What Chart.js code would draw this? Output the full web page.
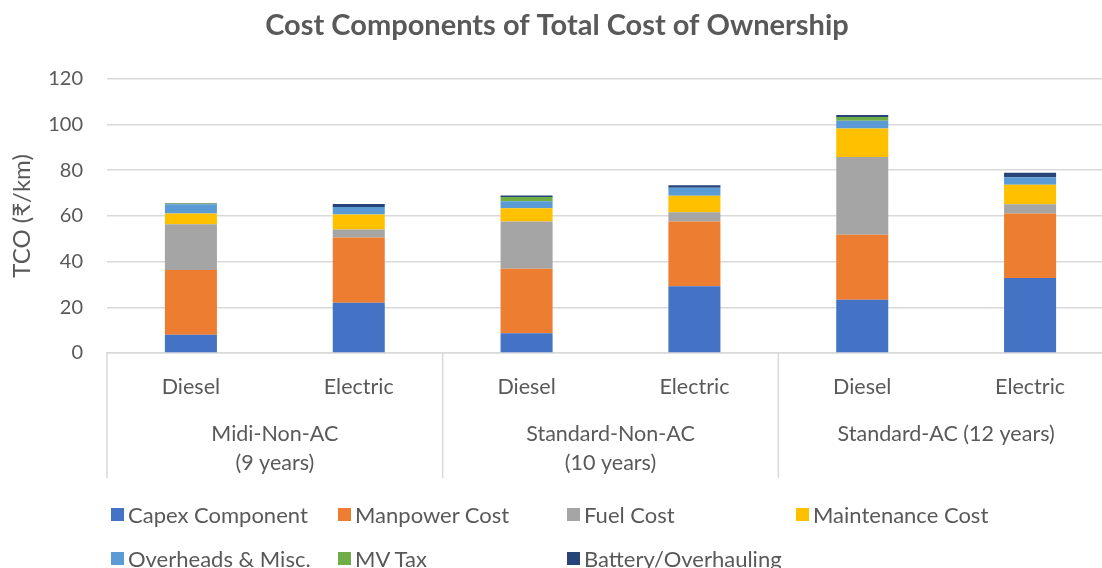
<!DOCTYPE html>
<html>
<head>
<meta charset="utf-8">
<script src="https://cdn.jsdelivr.net/npm/chart.js@4.4.1/dist/chart.umd.min.js"></script>
<style>
    html, body { margin: 0; padding: 0; background: #fff; overflow: hidden; }
    #wrap { position: relative; width: 1114px; height: 568px; }
    #legend {
        position: absolute; left: 111px; top: 502px;
        display: grid; grid-template-columns: 227px 229px 229px auto; row-gap: 20px;
        font-family: Lato, "Noto Sans", sans-serif; font-size: 22px; color: #595959;
    }
    #legend div { display: flex; align-items: center; height: 24px; white-space: nowrap; }
    #legend span { display: inline-block; width: 13px; height: 13px; margin-right: 4px; }
</style>
</head>
<body>
<div id="wrap">
    <canvas id="tcoChart" width="1114" height="568"></canvas>
    <div id="legend"></div>
</div>
<script>
// Categories
const busTypes = ['Diesel', 'Electric', 'Diesel', 'Electric', 'Diesel', 'Electric'];
const groupLabels = [['Midi-Non-AC', '(9 years)'], ['Standard-Non-AC', '(10 years)'], ['Standard-AC (12 years)']];

// Series values (₹/km)
const capex = [8.0, 22.0, 8.6, 29.2, 23.3, 32.8];
const manpower = [28.3, 28.5, 28.3, 28.4, 28.4, 28.3];
const fuel = [20.0, 3.5, 20.6, 4.0, 34.1, 4.0];
const maintenance = [4.7, 6.6, 5.8, 7.2, 12.4, 8.5];
const overheads = [4.1, 3.3, 3.1, 3.5, 3.4, 3.3];
const mvTax = [0.3, 0, 1.9, 0, 1.7, 0];
const battery = [0.2, 1.3, 0.6, 1.1, 0.9, 2.0];

const seriesNames = ['Capex Component', 'Manpower Cost', 'Fuel Cost', 'Maintenance Cost', 'Overheads & Misc.', 'MV Tax', 'Battery/Overhauling'];
const seriesData = [capex, manpower, fuel, maintenance, overheads, mvTax, battery];
const seriesColors = ['#4472C4', '#ED7D31', '#A5A5A5', '#FFC000', '#5B9BD5', '#70AD47', '#264478'];

const textColor = '#595959';
const fontFamily = "Lato, 'Noto Sans', sans-serif";

// Group labels + separators under the category axis
const groupAxisPlugin = {
    id: 'groupAxis',
    afterDraw(chart) {
        const x = chart.scales.x;
        const ctx = chart.ctx;
        const top = x.top;
        const bottom = x.top + 125;
        ctx.save();
        ctx.strokeStyle = '#d9d9d9';
        ctx.lineWidth = 1.5;
        const edges = [x.left];
        for (let g = 1; g < groupLabels.length; g++) {
            edges.push((x.getPixelForValue(g * 2 - 1) + x.getPixelForValue(g * 2)) / 2);
        }
        edges.push(x.right);
        edges.forEach(px => {
            ctx.beginPath();
            ctx.moveTo(px, top);
            ctx.lineTo(px, bottom);
            ctx.stroke();
        });
        ctx.fillStyle = textColor;
        ctx.font = `21.5px ${fontFamily}`;
        ctx.textAlign = 'center';
        ctx.textBaseline = 'middle';
        groupLabels.forEach((lines, g) => {
            const cx = (x.getPixelForValue(g * 2) + x.getPixelForValue(g * 2 + 1)) / 2;
            lines.forEach((line, i) => ctx.fillText(line, cx, top + 81 + i * 29));
        });
        ctx.restore();
    }
};

const ctx = document.getElementById('tcoChart').getContext('2d');
new Chart(ctx, {
    type: 'bar',
    data: {
        labels: busTypes,
        datasets: seriesNames.map((name, i) => ({
            label: name,
            data: seriesData[i],
            backgroundColor: seriesColors[i],
            borderWidth: 0,
            barPercentage: 0.31,
            categoryPercentage: 1.0
        }))
    },
    options: {
        responsive: false,
        animation: false,
        layout: { padding: { left: 0, right: 0, top: 0, bottom: 90 } },
        plugins: {
            legend: { display: false },
            tooltip: { enabled: false },
            title: {
                display: true,
                text: 'Cost Components of Total Cost of Ownership',
                color: textColor,
                font: { family: fontFamily, size: 29, weight: 'bold' },
                padding: { top: 8, bottom: 36 }
            }
        },
        scales: {
            x: {
                stacked: true,
                grid: { display: false, drawTicks: false },
                border: { display: true, color: '#d9d9d9', width: 1.5 },
                ticks: { color: textColor, font: { family: fontFamily, size: 21.5 }, padding: 21, maxRotation: 0 },
                afterFit: s => { s.height = 125; }
            },
            y: {
                stacked: true,
                min: 0,
                max: 120,
                ticks: { stepSize: 20, color: textColor, font: { family: fontFamily, size: 20 }, padding: 24 },
                grid: { color: '#d9d9d9', lineWidth: 1.5, drawTicks: false },
                border: { display: false },
                title: {
                    display: true,
                    text: 'TCO (₹/km)',
                    color: textColor,
                    font: { family: fontFamily, size: 24 },
                    padding: { top: 8, bottom: 0 }
                },
                afterFit: s => { s.width = 107; }
            }
        }
    },
    plugins: [groupAxisPlugin]
});

// Legend in a fixed grid, like the spreadsheet original
const legendEl = document.getElementById('legend');
seriesNames.forEach((name, i) => {
    const item = document.createElement('div');
    const box = document.createElement('span');
    box.style.background = seriesColors[i];
    item.appendChild(box);
    item.appendChild(document.createTextNode(name));
    legendEl.appendChild(item);
});
</script>
</body>
</html>
